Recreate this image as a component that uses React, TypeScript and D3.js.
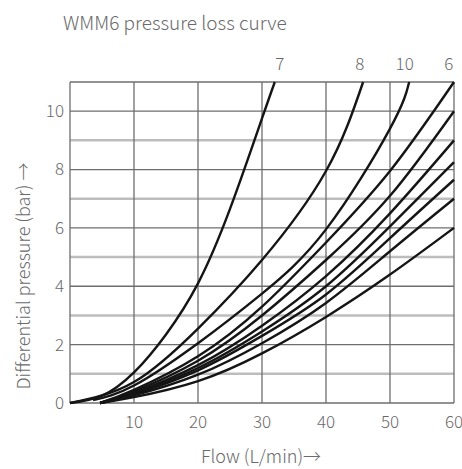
import React from 'react';
import * as d3 from 'd3';

const xTicks = [10, 20, 30, 40, 50, 60];
const yTicks = [0, 2, 4, 6, 8, 10];
const yGrid = [1, 2, 3, 4, 5, 6, 7, 8, 9, 10, 11];
const xGrid = [0, 10, 20, 30, 40, 50, 60];

// Each curve: [flow, pressure] points
const curve7: [number, number][] = [[0, 0], [5, 0.25], [10, 1.05], [15, 2.35], [20, 4.1], [25, 6.65], [30, 9.75], [32, 11]];
const curve8: [number, number][] = [[0, 0], [10, 0.72], [20, 2.55], [30, 4.9], [40, 7.95], [45.8, 11]];
const curve10: [number, number][] = [[3.6, 0.1], [10, 0.6], [20, 2.05], [30, 3.75], [40, 5.95], [50, 9.4], [53, 11]];
const curve6: [number, number][] = [[4.7, 0], [10, 0.45], [20, 1.6], [30, 3.3], [40, 5.5], [50, 7.95], [60, 11]];
const curveE: [number, number][] = [[4.7, 0], [10, 0.4], [20, 1.45], [30, 3.0], [40, 4.9], [50, 7.1], [60, 10]];
const curveF: [number, number][] = [[4.7, 0], [10, 0.35], [20, 1.3], [30, 2.65], [40, 4.35], [50, 6.5], [60, 9]];
const curveG: [number, number][] = [[4.7, 0], [10, 0.32], [20, 1.2], [30, 2.45], [40, 4.0], [50, 6.05], [60, 8.25]];
const curveH: [number, number][] = [[4.7, 0], [10, 0.3], [20, 1.12], [30, 2.3], [40, 3.72], [50, 5.65], [60, 7.65]];
const curveI: [number, number][] = [[4.7, 0], [10, 0.26], [20, 0.97], [30, 2.05], [40, 3.43], [50, 5.2], [60, 7.0]];
const curveJ: [number, number][] = [[4.7, 0], [10, 0.2], [20, 0.75], [30, 1.7], [40, 2.95], [50, 4.4], [60, 6.0]];

const curves = [curve7, curve8, curve10, curve6, curveE, curveF, curveG, curveH, curveI, curveJ];

const curveLabels = ['7', '8', '10', '6'];
const curveLabelX = [32.8, 45.3, 52.3, 59.2];

const title = 'WMM6 pressure loss curve';
const xTitle = 'Flow (L/min)→';
const yTitle = 'Differential pressure (bar) →';

const W = 462;
const H = 469;
const FONT = '"Noto Sans CJK SC", "Noto Sans", sans-serif';

export default function App() {
  const x = d3.scaleLinear().domain([0, 60]).range([70, 454]);
  const y = d3.scaleLinear().domain([0, 11]).range([403, 82]);
  const line = d3
    .line<[number, number]>()
    .x((d) => x(d[0]))
    .y((d) => y(d[1]))
    .curve(d3.curveNatural);

  return (
    <svg
      width={W}
      height={H}
      style={{ position: 'absolute', left: 0, top: 0, background: '#fff' }}
      fontFamily={FONT}
    >
      <rect x={0} y={0} width={W} height={H} fill="#fff" />
      <text x={63} y={30} fontSize={19} fontWeight={300} fill="#6a6a6a">
        {title}
      </text>

      {yGrid.map((v) => (
        <line
          key={'h' + v}
          x1={x(0)}
          x2={x(60)}
          y1={y(v)}
          y2={y(v)}
          stroke={v % 2 === 1 && v !== 11 ? '#bdbdbd' : '#6e6e6e'}
          strokeWidth={v % 2 === 1 && v !== 11 ? 2.5 : 1.3}
        />
      ))}
      {xGrid.map((v) => (
        <line
          key={'v' + v}
          x1={x(v)}
          x2={x(v)}
          y1={y(0)}
          y2={y(11)}
          stroke="#6e6e6e"
          strokeWidth={1.3}
        />
      ))}
      <line x1={x(0)} x2={x(60)} y1={y(0)} y2={y(0)} stroke="#6e6e6e" strokeWidth={1.3} />

      <defs>
        <clipPath id="clip">
          <rect x={x(0) - 2} y={y(11) - 1} width={x(60) - x(0) + 4} height={y(0) - y(11) + 3} />
        </clipPath>
      </defs>
      <g clipPath="url(#clip)">
        {curves.map((c, i) => (
          <path key={'c' + i} d={line(c) || ''} fill="none" stroke="#151515" strokeWidth={2.4} />
        ))}
      </g>

      {curveLabels.map((t, i) => (
        <text
          key={'l' + i}
          x={x(curveLabelX[i])}
          y={70}
          fontSize={17}
          fontWeight={300}
          fill="#6a6a6a"
          textAnchor="middle"
        >
          {t}
        </text>
      ))}

      {xTicks.map((v) => (
        <text key={'xt' + v} x={x(v)} y={428} fontSize={17} fontWeight={300} fill="#6a6a6a" textAnchor="middle">
          {v}
        </text>
      ))}
      {yTicks.map((v) => (
        <text
          key={'yt' + v}
          x={64}
          y={y(v)}
          dy="0.35em"
          fontSize={17}
          fontWeight={300}
          fill="#6a6a6a"
          textAnchor="end"
        >
          {v}
        </text>
      ))}

      <text x={261} y={463} fontSize={18} fontWeight={300} fill="#6a6a6a" textAnchor="middle">
        {xTitle}
      </text>
      <text
        transform={`translate(30, 276) rotate(-90)`}
        fontSize={18}
        fontWeight={300}
        fill="#6a6a6a"
        textAnchor="middle"
      >
        {yTitle}
      </text>
    </svg>
  );
}
